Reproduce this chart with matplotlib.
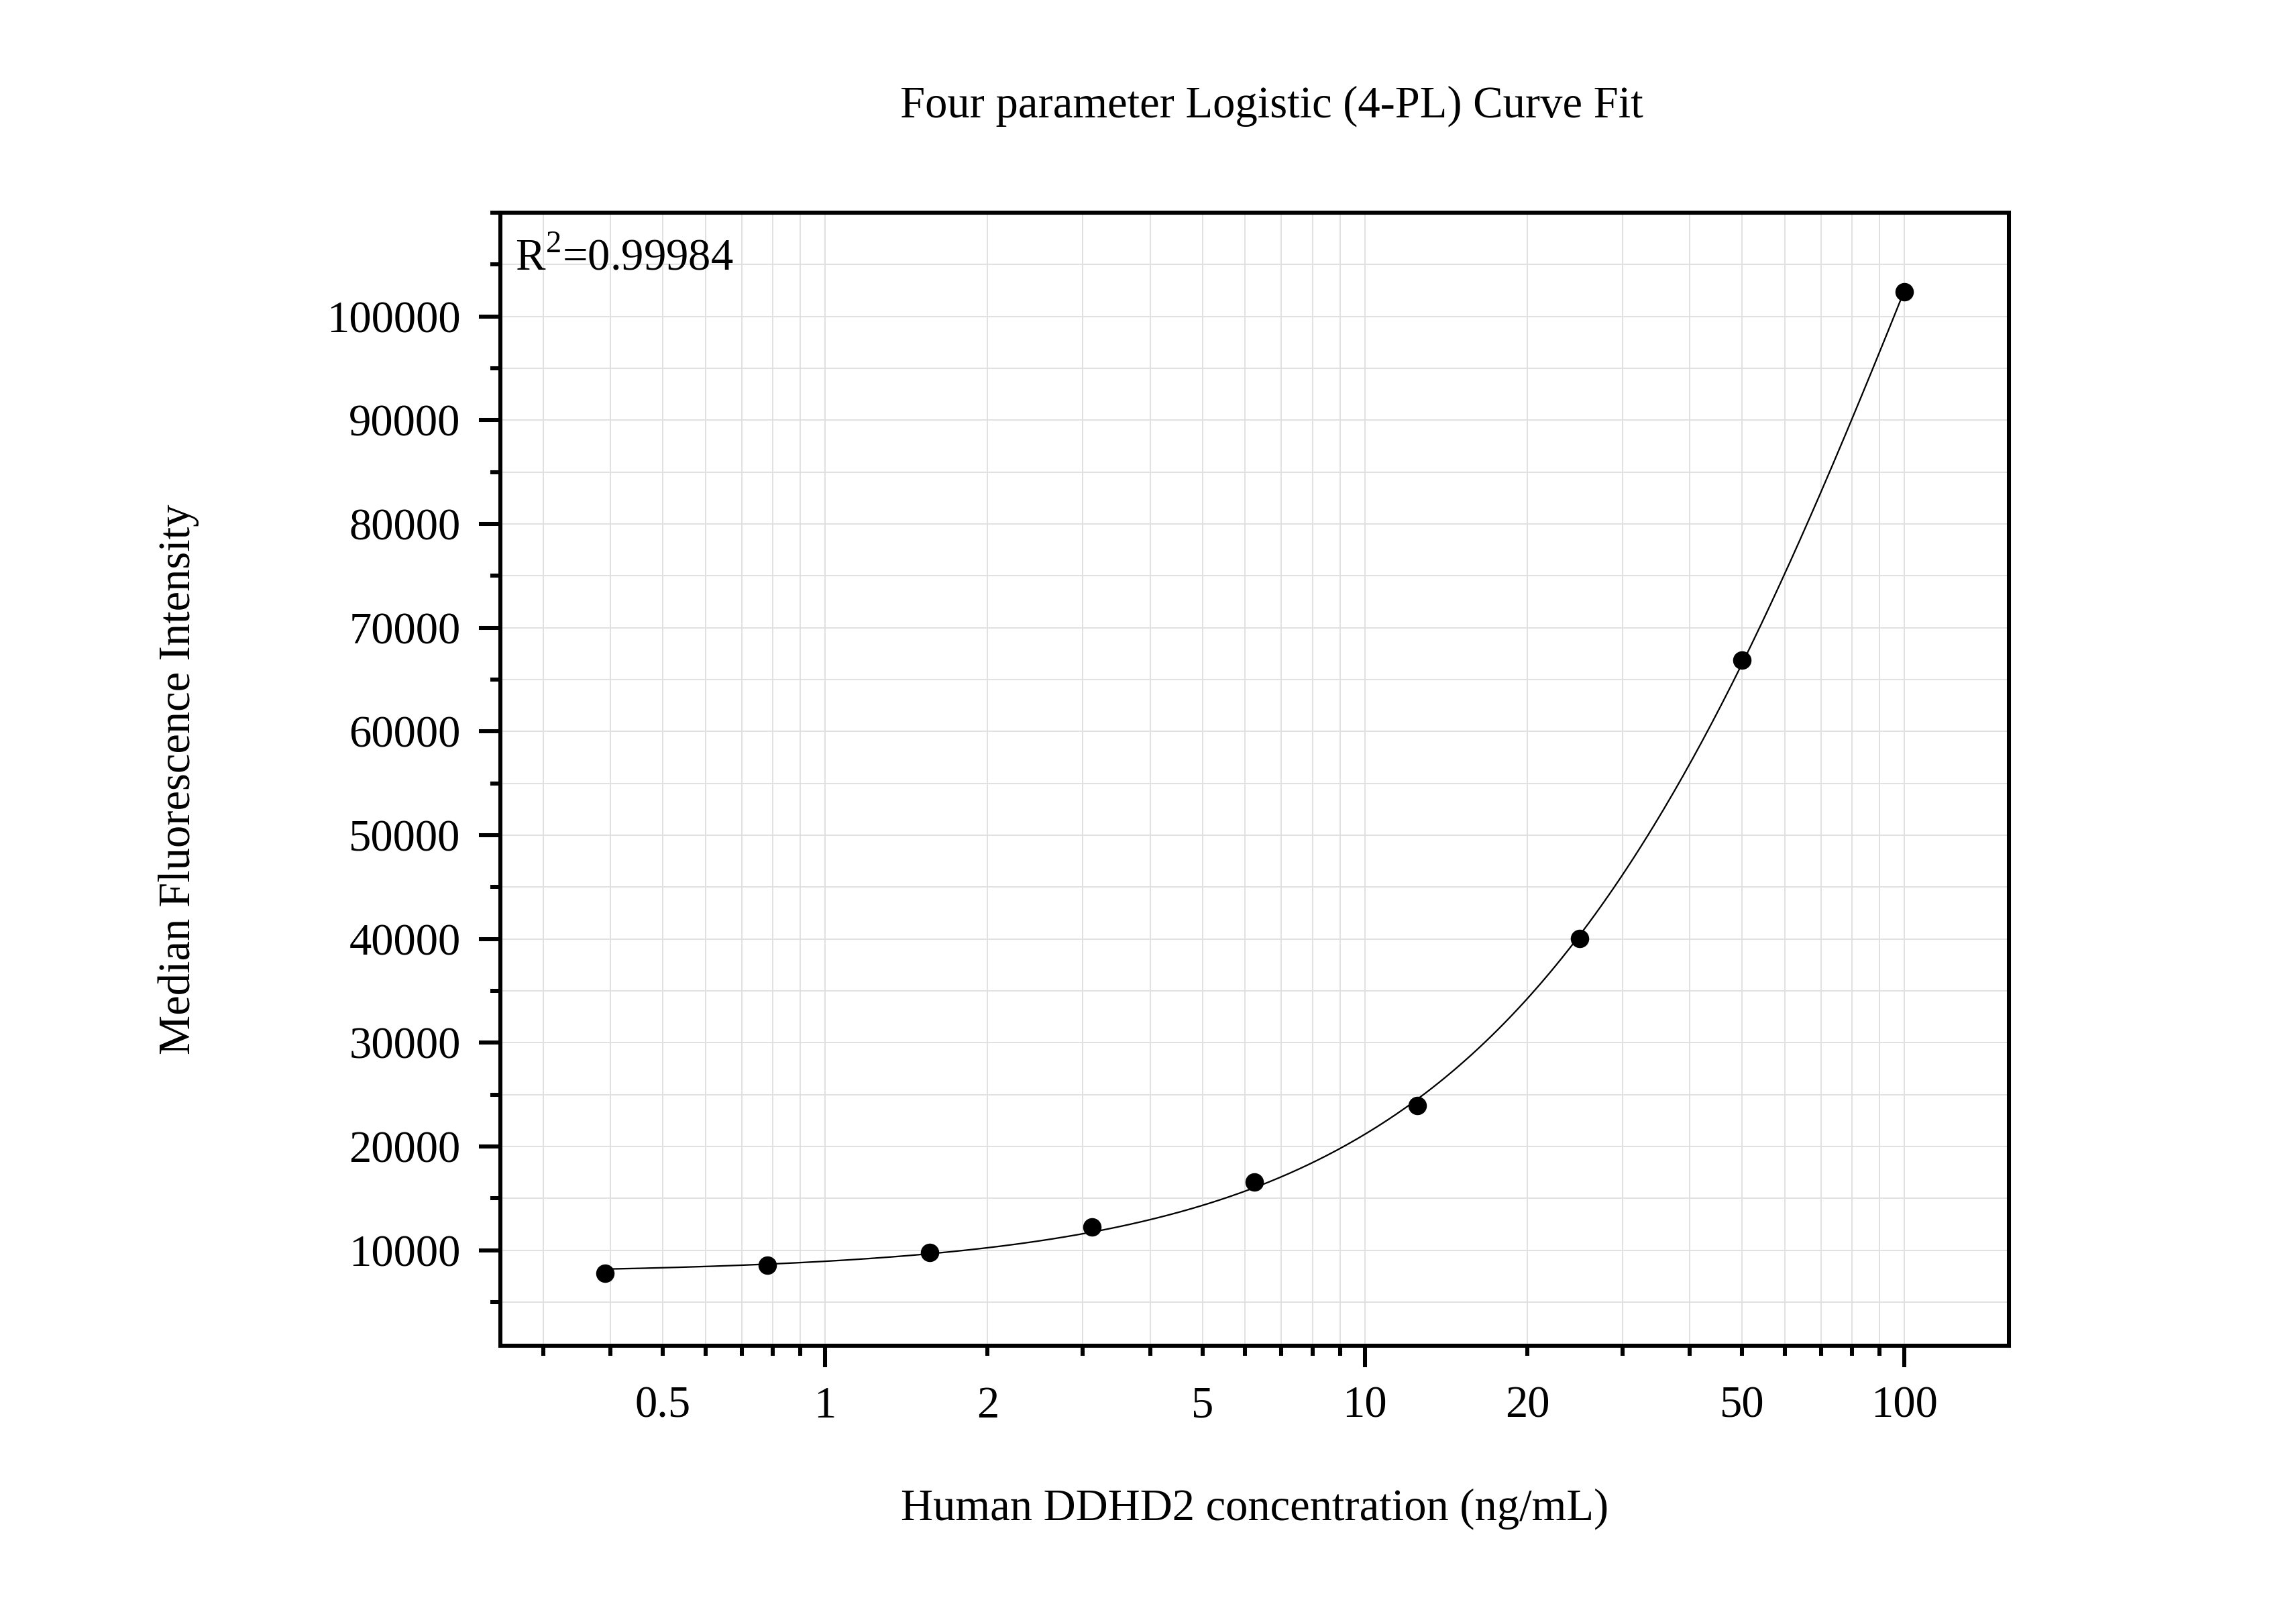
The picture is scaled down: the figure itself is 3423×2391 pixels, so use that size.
import numpy as np
import matplotlib
matplotlib.use("Agg")
import matplotlib.pyplot as plt
from matplotlib.ticker import MultipleLocator, FixedLocator, FixedFormatter

# standard concentrations (ng/mL) and measured MFI
conc = [0.390625, 0.78125, 1.5625, 3.125, 6.25, 12.5, 25, 50, 100]
mfi = [7770, 8540, 9790, 12260, 16570, 23970, 40030, 66900, 102400]

title = "Four parameter Logistic (4-PL) Curve Fit"
xlabel = "Human DDHD2 concentration (ng/mL)"
ylabel = "Median Fluorescence Intensity"
r2_text = "0.99984"

xlabel_pos = [0.5, 2, 5, 20, 50]
xlabel_txt = ["0.5", "2", "5", "20", "50"]
yticks = [10000, 20000, 30000, 40000, 50000, 60000, 70000, 80000, 90000, 100000]

plt.rcParams["font.family"] = ["Liberation Serif", "DejaVu Serif"]
plt.rcParams["mathtext.fontset"] = "custom"
plt.rcParams["mathtext.rm"] = "Liberation Serif"

x = np.array(conc)
y = np.array(mfi, dtype=float)


# 4PL fit: y = d + (a - d) / (1 + (x/c)^b); a, d solved linearly for each (b, c)
def fit_4pl(x, y):
    best = None
    bs = np.linspace(0.3, 3.0, 271)
    lcs = np.linspace(-1, 5, 601)
    for b in bs:
        for lc in lcs:
            g = 1.0 / (1.0 + (x / 10 ** lc) ** b)
            A = np.column_stack([g, 1 - g])
            coef, *_ = np.linalg.lstsq(A, y, rcond=None)
            r = np.sum((A @ coef - y) ** 2)
            if best is None or r < best[0]:
                best = (r, coef[0], b, 10 ** lc, coef[1])
    return best[1:]


a, b, c, d = fit_4pl(x, y)
xs = np.logspace(np.log10(x.min()), np.log10(x.max()), 400)
ys = d + (a - d) / (1 + (xs / c) ** b)

fig = plt.figure(figsize=(3423 / 300, 2391 / 300), dpi=300)
ax = fig.add_axes([0.2179, 0.161, 0.875 - 0.2179, 0.8674 - 0.161])

ax.plot(xs, ys, color="black", lw=0.55, zorder=3)
ax.plot(x, y, "o", color="black", ms=5.6, zorder=4)

ax.set_xscale("log")
ax.set_xlim(0.25, 156.25)
ax.set_ylim(800, 110000)

ax.xaxis.set_major_locator(FixedLocator([1, 10, 100]))
ax.xaxis.set_major_formatter(FixedFormatter(["1", "10", "100"]))
minor = [m * 10.0 ** e for e in (-1, 0, 1) for m in range(2, 10)]
minor = [round(v, 6) for v in minor if 0.25 <= v <= 156.25]
ax.xaxis.set_minor_locator(FixedLocator(minor))
ax.xaxis.set_minor_formatter(FixedFormatter(
    [xlabel_txt[xlabel_pos.index(v)] if v in xlabel_pos else "" for v in minor]))

ax.yaxis.set_major_locator(FixedLocator(yticks))
ax.yaxis.set_minor_locator(MultipleLocator(5000))
ax.yaxis.set_major_formatter(matplotlib.ticker.FuncFormatter(lambda v, p: "%d" % v))

ax.grid(True, which="both", color="#e0e0e0", lw=0.45)
ax.set_axisbelow(True)

for s in ax.spines.values():
    s.set_linewidth(1.45)
ax.tick_params(which="both", direction="out", width=1.45, labelsize=16,
               top=False, right=False)
ax.tick_params(which="major", length=7.7)
ax.tick_params(which="minor", length=3.6)
ax.tick_params(axis="x", which="major", pad=6.6)
ax.tick_params(axis="x", which="minor", pad=10.7)
ax.tick_params(axis="y", which="both", pad=6.5)

ax.text(0.0098, 0.9497, r"R$^2$=" + r2_text, transform=ax.transAxes,
        fontsize=16, va="baseline", ha="left")

fig.text(0.554, 0.934, title, fontsize=16, ha="center", va="center")
fig.text(0.5466, 0.0594, xlabel, fontsize=16, ha="center", va="center")
fig.text(0.0777, 0.514, ylabel, fontsize=16, ha="center", va="center",
         rotation=90)

fig.savefig("out.png", dpi=300)
